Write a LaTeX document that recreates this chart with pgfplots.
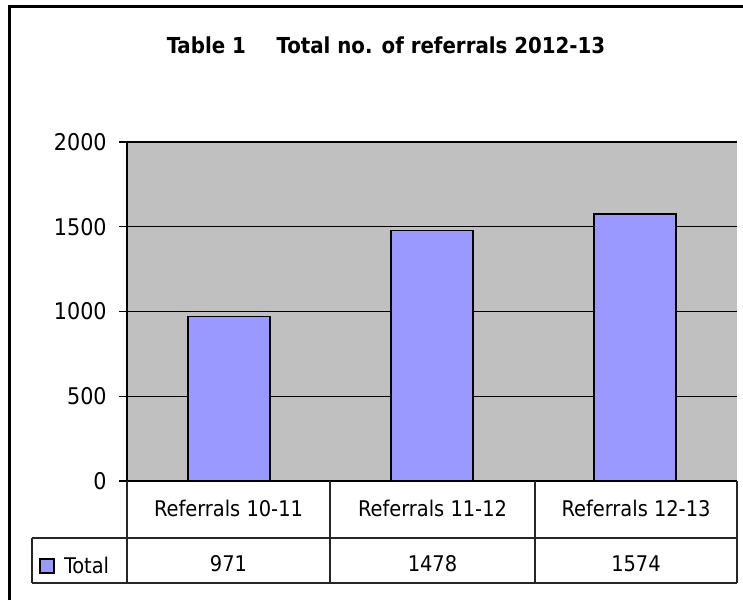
\documentclass[border=0pt]{standalone}
\usepackage{fontspec}
\setmainfont{DejaVu Sans Condensed}
\usepackage{pgfplots}
\pgfplotsset{compat=1.18}
\definecolor{barfill}{HTML}{9999FF}
\definecolor{plotbg}{HTML}{C0C0C0}
\begin{document}
\begin{tikzpicture}[x=0.5pt,y=-0.5pt]
\path[use as bounding box] (0,0) rectangle (743,600);
\draw[line width=1.5pt] (9.5,600) -- (9.5,6) -- (743,6);
\node[font=\bfseries\fontsize{11}{13}\selectfont] at (386,45) {Table 1\hspace{1.4em}Total no. of referrals 2012-13};
\begin{axis}[
  at={(63.5pt,-240.5pt)}, anchor=south west,
  scale only axis, width=305pt, height=169.5pt,
  xmin=-0.5, xmax=2.5, ymin=0, ymax=2000,
  ytick={0,500,...,2000}, xtick=\empty, ytick pos=left,
  axis background/.style={fill=plotbg},
  ymajorgrids, grid style={black, line width=0.6pt},
  axis x line*=bottom, axis y line*=left,
  axis line style={black, line width=0.6pt},
  tick align=outside, major tick length=4pt,
  tick style={black, line width=0.6pt},
  yticklabel style={font=\fontsize{11.5}{13}\selectfont, inner sep=2pt, xshift=-4pt},
  /pgf/number format/assume math mode=true,
  /pgf/number format/1000 sep={},
  ybar, bar width=41pt, clip=false,
]
\addplot[fill=barfill, draw=black, line width=0.9pt] coordinates {(0,971) (1,1478) (2,1574)};
\end{axis}
% data table below the plot
\draw[line width=0.6pt, black!85]
  (127,481) -- (127,583) (330,481) -- (330,583) (535,481) -- (535,583) (737,481) -- (737,583)
  (32,538) -- (737,538) (32,583) -- (737,583) (32,538) -- (32,583);
\begin{scope}[every node/.style={font=\fontsize{10.8}{12}\selectfont}]
\node at (228.5,508) {Referrals 10-11};
\node at (432.5,508) {Referrals 11-12};
\node at (636,508) {Referrals 12-13};
\node at (228.5,564) {971};
\node at (432.5,564) {1478};
\node at (636,564) {1574};
\node[anchor=west] at (57,565) {Total};
\end{scope}
\draw[fill=barfill, line width=0.8pt] (40,559) rectangle (54,573);
\end{tikzpicture}
\end{document}
